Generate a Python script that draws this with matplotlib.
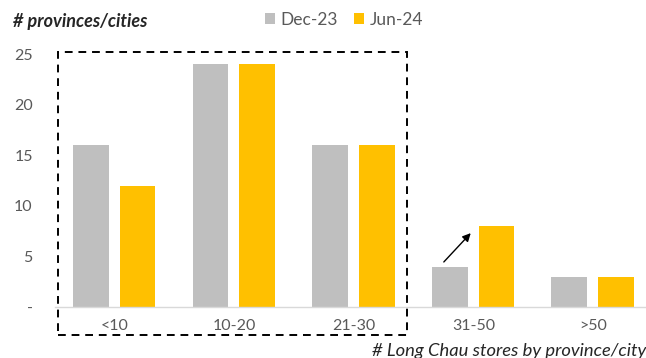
import matplotlib
matplotlib.use("Agg")
import matplotlib.pyplot as plt
from matplotlib.patches import Rectangle
import numpy as np

categories = ["<10", "10-20", "21-30", "31-50", ">50"]
dec23 = [16, 24, 16, 4, 3]
jun24 = [12, 24, 16, 8, 3]
yticks = [0, 5, 10, 15, 20, 25]
ytick_labels = ["-", "5", "10", "15", "20", "25"]

plt.rcParams["font.family"] = ["Lato", "DejaVu Sans"]

GREY = "#bfbfbf"
GOLD = "#ffc000"
TXT = "#595959"

fig = plt.figure(figsize=(6.46, 3.58), dpi=100)
W, H = 646, 358
ax = fig.add_axes([55 / W, (H - 307) / H, (646 - 55) / W, (307 - 54) / H])

x = np.arange(len(categories))
bw = 0.30
ax.bar(x - 0.2, dec23, width=bw, color=GREY, label="Dec-23", zorder=2)
ax.bar(x + 0.19, jun24, width=bw, color=GOLD, label="Jun-24", zorder=2)

ax.set_xlim(-0.5, 4.44)
ax.set_ylim(0, 25)
ax.set_yticks(yticks)
ax.set_yticklabels(ytick_labels)
ax.set_xticks(x)
ax.set_xticklabels(categories)
ax.tick_params(axis="both", length=0, labelsize=11.5, labelcolor=TXT)
ax.tick_params(axis="y", pad=16)
ax.tick_params(axis="x", pad=9)

for s in ["top", "right", "left"]:
    ax.spines[s].set_visible(False)
ax.spines["bottom"].set_color("#d9d9d9")
ax.spines["bottom"].set_linewidth(1.0)

# dashed frame around the first three groups
ax.add_patch(Rectangle((-0.477, -2.75), 2.92, 27.95, fill=False,
                       edgecolor="black", linestyle=(0, (4, 3)),
                       linewidth=1.4, clip_on=False, zorder=3))

# growth arrow on the 31-50 group
ax.annotate("", xy=(2.975, 7.3), xytext=(2.75, 4.45),
            arrowprops=dict(arrowstyle="-|>", color="black", lw=1.0,
                            mutation_scale=12, shrinkA=0, shrinkB=0))

fig.text(13 / W, 1 - 22 / H, "# provinces/cities", fontsize=13,
         fontweight="bold", fontstyle="italic", color="#262626",
         va="center", ha="left")

leg = fig.legend(loc="center left", bbox_to_anchor=(265 / W, 1 - 20 / H),
                 ncol=2, frameon=False, fontsize=12.5, handlelength=0.6,
                 handleheight=0.6, handletextpad=0.3, columnspacing=0.9,
                 borderaxespad=0, borderpad=0)
for t in leg.get_texts():
    t.set_color(TXT)

fig.text(372 / W, 1 - 351 / H, "# Long Chau stores by province/city",
         fontsize=13.2, fontstyle="italic", color="#262626",
         va="center", ha="left")

fig.savefig("out.png", dpi=100)
